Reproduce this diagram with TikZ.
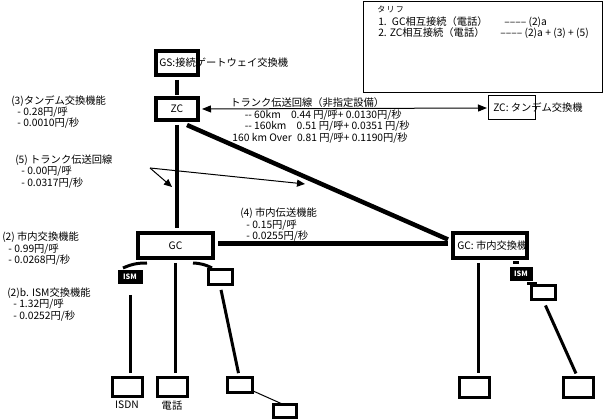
\documentclass[tikz,border=0pt]{standalone}
\usepackage{fontspec}
\setmainfont{Noto Sans CJK JP}
\usetikzlibrary{arrows.meta}
\newcommand{\px}{0.75pt}
\tikzset{
  bigbox/.style={draw, line width=4.5*\px, inner sep=0pt, outer sep=0pt},
  smallbox/.style={draw, line width=3*\px, inner sep=0pt, outer sep=0pt},
  ismbox/.style={draw, fill=black, text=white, inner sep=0pt, outer sep=0pt, font=\fontsize{5.5}{6}\selectfont\bfseries},
  trunk/.style={line width=4.5*\px},
  link/.style={line width=3*\px},
  lbl/.style={inner sep=0pt, align=left, font=\fontsize{7.7}{8.3}\selectfont},
  tip/.style={-{Triangle[length=8*\px,width=7*\px]}},
}
\begin{document}
\begin{tikzpicture}[x=\px,y=-\px]
\useasboundingbox (0,0) rectangle (608,420);
% tariff box
\node[draw, line width=1*\px, minimum width=239*\px, minimum height=91*\px] (tariff) at (482.5,47.5) {};
\node[lbl, anchor=west] (t0) at (377,9) {\fontsize{6}{6}\selectfont タ\,リ\,フ};
\node[lbl, anchor=west] (t1) at (378,22) {1.\enspace GC相互接続（電話）};
\node[lbl, anchor=west] (t1r) at (504,22) {––––\ (2)a};
\node[lbl, anchor=west] (t2) at (378,33) {2. ZC相互接続（電話）};
\node[lbl, anchor=west] (t2r) at (500,33) {––––\ (2)a + (3) + (5)};
% exchanges
\node[bigbox, minimum width=42*\px, minimum height=24*\px] (gs) at (177,63) {};
\node[lbl, anchor=west] (gst) at (159,63) {GS:接続ゲートウェイ交換機};
\node[bigbox, minimum width=42*\px, minimum height=22*\px] (zc) at (177,109) {\fontsize{7.7}{8}\selectfont ZC};
\node[draw, line width=1*\px, inner sep=0pt, outer sep=0pt, minimum width=47*\px, minimum height=24*\px] (zct) at (511.5,108) {};
\node[lbl, anchor=west] (zctt) at (493,108) {ZC: タンデム交換機};
\node[bigbox, minimum width=75*\px, minimum height=25*\px] (gc) at (175.5,245.5) {\fontsize{7.7}{8}\selectfont GC};
\node[bigbox, minimum width=74*\px, minimum height=25*\px] (gcr) at (490,245.5) {};
\node[lbl, anchor=west] (gcrt) at (457,245.5) {GC: 市内交換機};
% lines between exchanges
\draw[trunk, shorten <=5*\px, shorten >=3*\px] (gs.south) -- (gs.south |- zc.north);
\draw[trunk, shorten <=5*\px, shorten >=5*\px] (zc.south) -- (zc.south |- gc.north);
\draw[trunk] ([xshift=10*\px,yshift=-5*\px]zc.south) -- ([xshift=-5*\px,yshift=6*\px]gcr.west);
\draw[trunk, shorten <=5*\px, shorten >=5*\px] ([yshift=2*\px]gc.east) -- ([yshift=2*\px]gcr.west);
\draw[line width=1*\px, {Triangle[length=9*\px,width=7*\px]}-{Triangle[length=9*\px,width=7*\px]}, shorten <=4*\px, shorten >=1*\px] (zc.east) -- (zct.west);
\node[lbl, anchor=west] (trk) at (230,103) {トランク伝送回線（非指定設備）};
\node[lbl, anchor=north east] (trkr) at (410,110) {-{}- 60km\quad 0.44 円/呼+ 0.0130円/秒\\
-{}- 160km\quad 0.51 円/呼+ 0.0351 円/秒\\
\hspace*{-1.2em}160 km Over\enspace 0.81 円/呼+ 0.1190円/秒};
% cost labels
\node[lbl, anchor=north west] (c3) at (11,95) {(3)タンデム交換機能\\\hspace*{0.6em}- 0.28円/呼\\\hspace*{0.6em}- 0.0010円/秒};
\node[lbl, anchor=north west] (c5) at (15,155) {(5) トランク伝送回線\\\hspace*{0.6em}- 0.00円/呼\\\hspace*{0.6em}- 0.0317円/秒};
\node[lbl, anchor=north west] (c4) at (240,208) {(4) 市内伝送機能\\\hspace*{0.6em}- 0.15円/呼\\\hspace*{0.6em}- 0.0255円/秒};
\node[lbl, anchor=north west] (c2) at (2,232) {(2) 市内交換機能\\\hspace*{0.6em}- 0.99円/呼\\\hspace*{0.6em}- 0.0268円/秒};
\node[lbl, anchor=north west] (c2b) at (7,288) {(2)b. ISM交換機能\\\hspace*{0.6em}- 1.32円/呼\\\hspace*{0.6em}- 0.0252円/秒};
\coordinate (apex) at (150,168);
\coordinate (a1) at (172,187);
\coordinate (a2) at (305,184);
\draw[line width=1*\px, tip] (apex) -- (a1);
\draw[line width=1*\px, tip] (apex) -- (a2);
% subscriber side of GC
\node[ismbox, minimum width=24*\px, minimum height=13*\px] (isml) at (130,276.5) {ISM};
\node[smallbox, minimum width=24*\px, minimum height=15*\px] (bl2) at (220,277.5) {};
\node[smallbox, minimum width=30*\px, minimum height=19*\px] (isdn) at (127,387.5) {};
\node[smallbox, minimum width=30*\px, minimum height=19*\px] (tel) at (172,387.5) {};
\node[smallbox, minimum width=25*\px, minimum height=15*\px] (b3) at (239.5,385.5) {};
\node[smallbox, minimum width=23*\px, minimum height=13*\px] (b4) at (284.5,411.5) {};
\node[lbl, anchor=north] (isdnt) at (isdn.south) [yshift=-4*\px] {ISDN};
\node[lbl, anchor=north] (telt) at (tel.south) [yshift=-4*\px] {電話};
\draw[link] (123,268) to[bend left=12] (147,263);
\draw[link] (193,263) to[bend left=12] (212,268);
\draw[link, shorten <=12*\px, shorten >=5*\px] (isml.south) -- (isml.south |- isdn.north);
\draw[link, shorten <=5*\px, shorten >=5*\px] (gc.south) -- (gc.south |- tel.north);
\draw[link, shorten <=5*\px, shorten >=5*\px] (bl2.south) -- (b3.north);
\draw[line width=1*\px] ([yshift=-5*\px]b3.east) -- (b4.north);
% subscriber side of GC right
\node[ismbox, minimum width=22*\px, minimum height=13*\px] (ismr) at (521,273.5) {ISM};
\node[smallbox, minimum width=24*\px, minimum height=14*\px] (br2) at (543,293) {};
\node[smallbox, minimum width=30*\px, minimum height=20*\px] (br1) at (474,388) {};
\node[smallbox, minimum width=30*\px, minimum height=20*\px] (br3) at (578,388) {};
\coordinate (rv) at ([xshift=4*\px]br1.north);
\draw[link] (513,263) -- (519,263);
\draw[link] (527,284) -- (537,284);
\draw[link, shorten <=5*\px, shorten >=5*\px] (rv |- gcr.south) -- (rv);
\draw[link, shorten <=6*\px, shorten >=5*\px] (br2.south) -- (br3.north);
\end{tikzpicture}
\end{document}
